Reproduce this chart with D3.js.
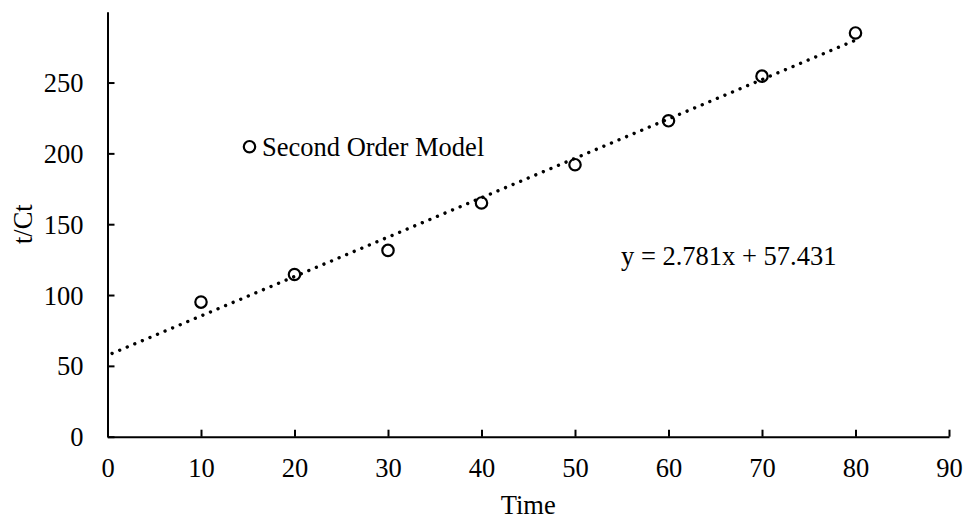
<!DOCTYPE html>
<html>
<head>
<meta charset="utf-8">
<script src="https://cdn.jsdelivr.net/npm/d3@7"></script>
<style>
  html, body { margin: 0; padding: 0; background: #fff; }
  svg { display: block; }
  text { font-family: "Liberation Serif", "Times New Roman", serif; fill: #000; }
</style>
</head>
<body>
<svg id="chart" width="969" height="524"></svg>
<script>
// Measured t/Ct values for the second order kinetic model
const times = [10, 20, 30, 40, 50, 60, 70, 80];
const tOverCt = [95, 114.5, 131.5, 165, 192, 223, 254.5, 285];

// Linear trendline fitted to the series
const slope = 2.781;
const intercept = 57.431;
const trendRange = [0, 80];

const xTicks = [0, 10, 20, 30, 40, 50, 60, 70, 80, 90];
const yTicks = [0, 50, 100, 150, 200, 250];

const seriesName = "Second Order Model";
const xTitle = "Time";
const yTitle = "t/Ct";

const svg = d3.select("#chart");
const fontSize = 26.5;

const x = d3.scaleLinear().domain([0, 90]).range([107.5, 949]);
const y = d3.scaleLinear().domain([0, 300]).range([436.7, 11.7]);

// Axes with inward tick marks
const xAxis = svg.append("g")
  .attr("transform", `translate(0,${y(0)})`)
  .call(d3.axisBottom(x).tickValues(xTicks).tickSizeInner(-7).tickSizeOuter(0).tickPadding(0));
xAxis.select(".domain").attr("stroke", "#000").attr("stroke-width", 2);
xAxis.selectAll(".tick line").attr("stroke", "#000").attr("stroke-width", 2);
xAxis.selectAll(".tick text")
  .attr("y", 40.5)
  .attr("dy", 0)
  .style("font-size", fontSize + "px")
  .style("font-family", "'Liberation Serif', serif");

const yAxis = svg.append("g")
  .attr("transform", `translate(${x(0)},0)`)
  .call(d3.axisLeft(y).tickValues(yTicks).tickSizeInner(-7).tickSizeOuter(0).tickPadding(0));
yAxis.select(".domain").attr("stroke", "#000").attr("stroke-width", 2);
yAxis.selectAll(".tick line").attr("stroke", "#000").attr("stroke-width", 2);
yAxis.selectAll(".tick text")
  .attr("x", -24)
  .attr("dy", "0.34em")
  .style("font-size", fontSize + "px")
  .style("font-family", "'Liberation Serif', serif");
yAxis.selectAll("text").attr("fill", "#000");
xAxis.selectAll("text").attr("fill", "#000");

// Dotted trendline
const trendPts = trendRange.map(t => [t, intercept + slope * t]);
svg.append("path")
  .datum(trendPts)
  .attr("d", d3.line().x(d => x(d[0])).y(d => y(d[1])))
  .attr("fill", "none")
  .attr("stroke", "#000")
  .attr("stroke-width", 3.4)
  .attr("stroke-linecap", "round")
  .attr("stroke-dasharray", "0.01 8.2")
  .attr("stroke-dashoffset", -5);

// Data markers
svg.append("g")
  .selectAll("circle")
  .data(times.map((t, i) => [t, tOverCt[i]]))
  .join("circle")
  .attr("cx", d => x(d[0]))
  .attr("cy", d => y(d[1]))
  .attr("r", 5.7)
  .attr("fill", "none")
  .attr("stroke", "#000")
  .attr("stroke-width", 2.2);

// Legend entry
svg.append("circle")
  .attr("cx", 249.5).attr("cy", 146.7).attr("r", 5.7)
  .attr("fill", "none").attr("stroke", "#000").attr("stroke-width", 2.2);
svg.append("text")
  .attr("x", 262).attr("y", 156)
  .style("font-size", fontSize + "px")
  .text(seriesName);

// Trendline equation
svg.append("text")
  .attr("x", 621).attr("y", 265)
  .style("font-size", fontSize + "px")
  .text(`y = ${slope.toFixed(3)}x + ${intercept.toFixed(3)}`);

// Axis titles
svg.append("text")
  .attr("x", (x(0) + x(90)) / 2).attr("y", 514)
  .attr("text-anchor", "middle")
  .style("font-size", fontSize + "px")
  .text(xTitle);
svg.append("text")
  .attr("transform", `translate(31.5,${(y(0) + y(300)) / 2}) rotate(-90)`)
  .attr("text-anchor", "middle")
  .style("font-size", fontSize + "px")
  .text(yTitle);
</script>
</body>
</html>
